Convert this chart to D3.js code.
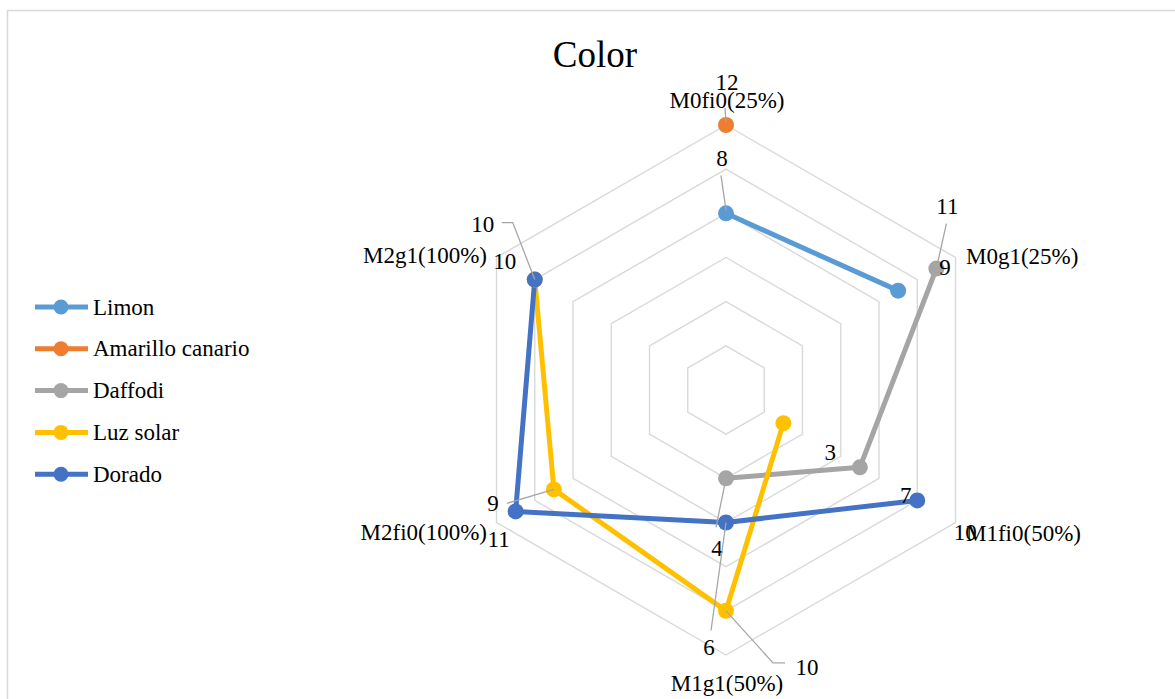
<!DOCTYPE html>
<html><head><meta charset="utf-8"><script src="https://cdn.jsdelivr.net/npm/d3@7"></script></head>
<body style="margin:0">
<svg id="chart" width="1175" height="699" style="display:block"></svg>
<script>
// ---- data ----
const axes = ["M0fi0(25%)", "M0g1(25%)", "M1fi0(50%)", "M1g1(50%)", "M2fi0(100%)", "M2g1(100%)"];
const seriesNames = ["Limon", "Amarillo canario", "Daffodi", "Luz solar", "Dorado"];
const limon    = [8, 9, null, null, null, null];
const amarillo = [12, null, null, null, null, null];
const daffodi  = [null, 11, 7, 4, null, null];
const luzSolar = [null, null, 3, 10, 9, 10];
const dorado   = [null, null, 10, 6, 11, 10];
const gridTicks = [2, 4, 6, 8, 10, 12];
const title = "Color";

// ---- layout / style (kept apart from data) ----
const colors = ["#5b9bd5", "#ed7d31", "#a5a5a5", "#ffc000", "#4472c4"];
const seriesData = [limon, amarillo, daffodi, luzSolar, dorado];
const cx = 726, cy = 390, R = 265;
const fontSize = 23;

// axis label placement: [x, y, anchor]
const axisLabelPos = [
  [727, 100, "middle"],
  [966, 256, "start"],
  [966, 533, "start"],
  [727, 683, "middle"],
  [487, 532, "end"],
  [487, 255, "end"]
];

// data label placement: series, axis, label offset, leader path offsets
const labelLayout = [
  {s: 1, i: 0, dx: 1,   dy: -43, leader: [[-1, -17], [0, -3]]},
  {s: 0, i: 0, dx: -4,  dy: -55, leader: [[-5, -38], [0, -3]]},
  {s: 0, i: 1, dx: 47,  dy: -23},
  {s: 2, i: 1, dx: 11,  dy: -62, leader: [[10, -45], [0, 0]]},
  {s: 2, i: 2, dx: 46,  dy: 28},
  {s: 3, i: 2, dx: 47,  dy: 29},
  {s: 4, i: 2, dx: 48,  dy: 32},
  {s: 2, i: 3, dx: -9,  dy: 70,  leader: [[-10, 49], [0, 0]]},
  {s: 4, i: 3, dx: -17, dy: 125, leader: [[-15, 108], [0, 0]]},
  {s: 3, i: 3, dx: 81,  dy: 57,  leader: [[0, 0], [47, 52], [59, 52]]},
  {s: 3, i: 4, dx: -61, dy: 14,  leader: [[-47, 14], [0, 0]]},
  {s: 4, i: 4, dx: -17, dy: 28},
  {s: 3, i: 5, dx: -52, dy: -55, leader: [[0, 0], [-22, -57], [-33, -57]]},
  {s: 4, i: 5, dx: -30, dy: -18}
];

const svg = d3.select("#chart");

// chart border
svg.append("rect")
  .attr("x", 7.5).attr("y", 10.5)
  .attr("width", 1300).attr("height", 800)
  .attr("fill", "none").attr("stroke", "#d9d9d9").attr("stroke-width", 1.5);

const addText = (parent, x, y, str, size, anchor, dy) => {
  return parent.append("text")
    .attr("x", x).attr("y", y)
    .attr("dy", dy || 0)
    .attr("text-anchor", anchor || "middle")
    .style("font-family", `"Liberation Serif"`)
    .style("font-size", size + "px")
    .text(str);
};

// title
addText(svg, 595, 67, title, 37, "middle");

const r = d3.scaleLinear().domain([0, 12]).range([0, R]);
const angle = d3.scalePoint().domain(d3.range(axes.length + 1)).range([0, 2 * Math.PI]);
const polar = (i, v) => {
  const a = angle(i);
  return [cx + r(v) * Math.sin(a), cy - r(v) * Math.cos(a)];
};

const g = svg.append("g");

// grid hexagons
gridTicks.forEach(t => {
  const pts = d3.range(axes.length).map(i => polar(i, t));
  g.append("polygon")
    .attr("points", pts.map(p => p.join(",")).join(" "))
    .attr("fill", "none")
    .attr("stroke", "#d9d9d9")
    .attr("stroke-width", 1.4);
});

// axis labels (dy shifts baseline so y is the visual centre)
axes.forEach((a, i) => {
  const [x, y, anchor] = axisLabelPos[i];
  addText(g, x, y, a, fontSize, anchor, "0.33em");
});

// series lines
const line = d3.lineRadial()
  .angle((d, i) => angle(i))
  .radius(d => r(d))
  .defined(d => d != null);

seriesData.forEach((vals, s) => {
  const closed = vals.concat([vals[0]]);
  g.append("path")
    .attr("transform", `translate(${cx},${cy})`)
    .attr("d", line(closed))
    .attr("fill", "none")
    .attr("stroke", colors[s])
    .attr("stroke-width", 5)
    .attr("stroke-linejoin", "round");
});

// markers
seriesData.forEach((vals, s) => {
  vals.forEach((v, i) => {
    if (v == null) return;
    const [x, y] = polar(i, v);
    g.append("circle")
      .attr("cx", x).attr("cy", y).attr("r", 8)
      .attr("fill", colors[s]);
  });
});

// leader lines and data labels
labelLayout.forEach(l => {
  const v = seriesData[l.s][l.i];
  const [px, py] = polar(l.i, v);
  if (l.leader) {
    g.append("path")
      .attr("d", d3.line()(l.leader.map(o => [px + o[0], py + o[1]])))
      .attr("fill", "none")
      .attr("stroke", "#a6a6a6")
      .attr("stroke-width", 1.3);
  }
  addText(g, px + l.dx, py + l.dy, String(v), fontSize, "middle", "0.33em");
});

// legend
const legend = svg.append("g");
seriesNames.forEach((name, s) => {
  const y = 307 + s * 41.8;
  legend.append("line")
    .attr("x1", 35).attr("x2", 88).attr("y1", y).attr("y2", y)
    .attr("stroke", colors[s]).attr("stroke-width", 5);
  legend.append("circle")
    .attr("cx", 61).attr("cy", y).attr("r", 7.5)
    .attr("fill", colors[s]);
  addText(legend, 93, y, name, fontSize, "start", "0.33em");
});
</script>
</body>
</html>
